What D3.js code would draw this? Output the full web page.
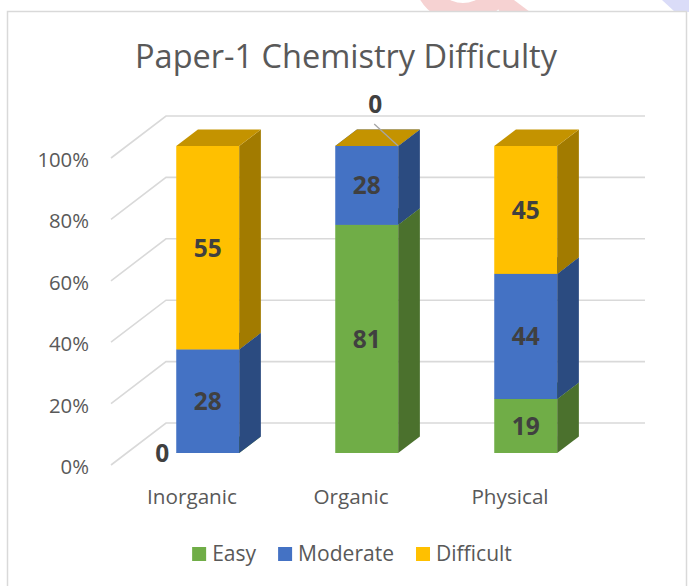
<!DOCTYPE html>
<html>
<head>
<meta charset="utf-8">
<script src="https://cdn.jsdelivr.net/npm/d3@7/dist/d3.min.js"></script>
<style>
  html, body { margin: 0; padding: 0; background: #ffffff; }
  svg { display: block; }
  text { font-family: "Open Sans", "Noto Sans", sans-serif; }
</style>
</head>
<body>
<svg id="chart" width="689" height="586"></svg>
<script>
// ---------- data ----------
const chartTitle = "Paper-1 Chemistry Difficulty";
const categories = ["Inorganic", "Organic", "Physical"];
const seriesNames = ["Easy", "Moderate", "Difficult"];
const easyValues = [0, 81, 19];
const moderateValues = [28, 28, 44];
const difficultValues = [55, 0, 45];
const yTickValues = [0, 0.2, 0.4, 0.6, 0.8, 1];
const yTickLabels = ["0%", "20%", "40%", "60%", "80%", "100%"];

// ---------- styling ----------
const seriesColors = {
  Easy:      { front: "#70AD47", side: "#4B712D", top: "#5B8E3A" },
  Moderate:  { front: "#4472C4", side: "#2B4B80", top: "#3A63AC" },
  Difficult: { front: "#FFC000", side: "#A27B00", top: "#C49300" }
};
const textGrey = "#595959";
const labelDark = "#404040";
const gridColor = "#D9D9D9";

const svg = d3.select("#chart");

// helper: fit font size of a text to a target width
function fitSize(str, weight, targetWidth) {
  const t = svg.append("text").attr("font-size", 100).attr("font-weight", weight).text(str);
  const w = t.node().getComputedTextLength();
  t.remove();
  return 100 * targetWidth / w;
}

// ---------- watermark remnants at the top ----------
const wm = svg.append("g");
wm.append("clipPath").attr("id", "topClip").append("rect").attr("x", 0).attr("y", 0).attr("width", 689).attr("height", 12);
const wmg = wm.append("g").attr("clip-path", "url(#topClip)");
wmg.append("path")
  .attr("d", d3.arc().innerRadius(29).outerRadius(50).startAngle(0).endAngle(2 * Math.PI)())
  .attr("transform", "translate(463,-26)")
  .attr("fill", "#F6D2D2");
wmg.append("polygon").attr("points", "492,0 514,0 530,12 500,12").attr("fill", "#F6D2D2");
wmg.append("polygon").attr("points", "662,0 689,0 689,12 675,12").attr("fill", "#DADCF8");

// ---------- chart border ----------
svg.append("rect")
  .attr("x", 7.5).attr("y", 11.5).attr("width", 679).attr("height", 620)
  .attr("fill", "#ffffff").attr("stroke", gridColor).attr("stroke-width", 1.5);

// ---------- title ----------
svg.append("text")
  .attr("x", 346).attr("y", 68)
  .attr("text-anchor", "middle")
  .attr("fill", textGrey)
  .attr("font-size", fitSize(chartTitle, 400, 422))
  .text(chartTitle);

// ---------- scales ----------
const plotLeft = 111, plotRight = 590;
const yFront = d3.scaleLinear().domain([0, 1]).range([465, 158]);
const x = d3.scaleBand().domain(categories)
  .range([112.5, 589.5]).paddingInner(0.604).paddingOuter(0.302);
const depth = { dx: 55, dy: -42 };
const barFrontFrac = 0.286, barBackFrac = 0.68;

// ---------- gridlines (floor edge + back wall) ----------
const grid = svg.append("g");
yTickValues.forEach(t => {
  const y0 = yFront(t);
  grid.append("path")
    .attr("d", `M${plotLeft},${y0} L${plotLeft + depth.dx},${y0 + depth.dy} L${plotRight + depth.dx},${y0 + depth.dy}`)
    .attr("fill", "none").attr("stroke", gridColor).attr("stroke-width", 1.6);
});

// ---------- y axis labels ----------
const tickSize = fitSize("40%", 400, 40);
const yAxis = d3.axisLeft(yFront).tickValues(yTickValues)
  .tickFormat((d, i) => yTickLabels[i]).tickSize(0).tickPadding(0);
const yAxisG = svg.append("g").attr("transform", "translate(89,2)").call(yAxis);
yAxisG.select(".domain").remove();
yAxisG.selectAll("text").attr("fill", textGrey).attr("font-size", tickSize)
  .attr("font-family", '"Open Sans", sans-serif');

// ---------- category labels ----------
const catSize = fitSize("Inorganic", 400, 90);
categories.forEach(c => {
  svg.append("text")
    .attr("x", x(c) + x.bandwidth() / 2).attr("y", 504)
    .attr("text-anchor", "middle").attr("fill", textGrey)
    .attr("font-size", catSize).text(c);
});

// ---------- stacked bars ----------
const rows = categories.map((c, i) => ({
  cat: c, Easy: easyValues[i], Moderate: moderateValues[i], Difficult: difficultValues[i]
}));
const stacked = d3.stack().keys(seriesNames).offset(d3.stackOffsetExpand)(rows);

const f1x = barFrontFrac * depth.dx, f1y = barFrontFrac * depth.dy;
const sdx = (barBackFrac - barFrontFrac) * depth.dx, sdy = (barBackFrac - barFrontFrac) * depth.dy;
const w = x.bandwidth();
const labelSize = fitSize("55", 700, 28);
const bars = svg.append("g");
const labels = svg.append("g");

categories.forEach((c, ci) => {
  stacked.forEach((layer, si) => {
    const seg = layer[ci];
    const key = layer.key;
    const col = seriesColors[key];
    const x0 = x(c) + f1x;
    const yb = yFront(seg[0]) + f1y;
    const yt = yFront(seg[1]) + f1y;
    // front face
    bars.append("rect").attr("x", x0).attr("y", yt).attr("width", w).attr("height", Math.max(0, yb - yt))
      .attr("fill", col.front);
    // side face
    bars.append("polygon")
      .attr("points", `${x0 + w},${yb} ${x0 + w + sdx},${yb + sdy} ${x0 + w + sdx},${yt + sdy} ${x0 + w},${yt}`)
      .attr("fill", col.side);
    // top face
    bars.append("polygon")
      .attr("points", `${x0},${yt} ${x0 + w},${yt} ${x0 + w + sdx},${yt + sdy} ${x0 + sdx},${yt + sdy}`)
      .attr("fill", col.top);

    // data label
    const val = seg.data[key];
    if (val > 0) {
      labels.append("text")
        .attr("x", x0 + w / 2).attr("y", (yb + yt) / 2)
        .attr("dy", "0.36em")
        .attr("text-anchor", "middle").attr("font-weight", 700)
        .attr("font-size", labelSize).attr("fill", labelDark).text(val);
    } else if (si === 0) {
      labels.append("text")
        .attr("x", x0 - 14).attr("y", yb)
        .attr("dy", "0.36em")
        .attr("text-anchor", "middle").attr("font-weight", 700)
        .attr("font-size", labelSize).attr("fill", labelDark).text(val);
    } else {
      const cx = x0 + w, cy = yt;
      labels.append("line")
        .attr("x1", cx - 24).attr("y1", cy - 22).attr("x2", cx).attr("y2", cy)
        .attr("stroke", "#A6A6A6").attr("stroke-width", 1.3);
      labels.append("text")
        .attr("x", cx - 23).attr("y", cy - 42)
        .attr("dy", "0.36em")
        .attr("text-anchor", "middle").attr("font-weight", 700)
        .attr("font-size", labelSize).attr("fill", labelDark).text(val);
    }
  });
});

// ---------- legend ----------
const legSize = fitSize("Moderate", 400, 96);
const legend = svg.append("g");
const items = seriesNames.map(n => {
  const t = svg.append("text").attr("font-size", legSize).text(n);
  const tw = t.node().getComputedTextLength();
  t.remove();
  return { name: n, tw };
});
const sq = 14, gapSqText = 6, gapItems = 22;
const totalW = d3.sum(items, d => sq + gapSqText + d.tw) + gapItems * (items.length - 1);
let lx = 352 - totalW / 2;
items.forEach(it => {
  legend.append("rect").attr("x", lx).attr("y", 547).attr("width", sq).attr("height", sq)
    .attr("fill", seriesColors[it.name].front);
  legend.append("text").attr("x", lx + sq + gapSqText).attr("y", 561)
    .attr("fill", textGrey).attr("font-size", legSize).text(it.name);
  lx += sq + gapSqText + it.tw + gapItems;
});
</script>
</body>
</html>
